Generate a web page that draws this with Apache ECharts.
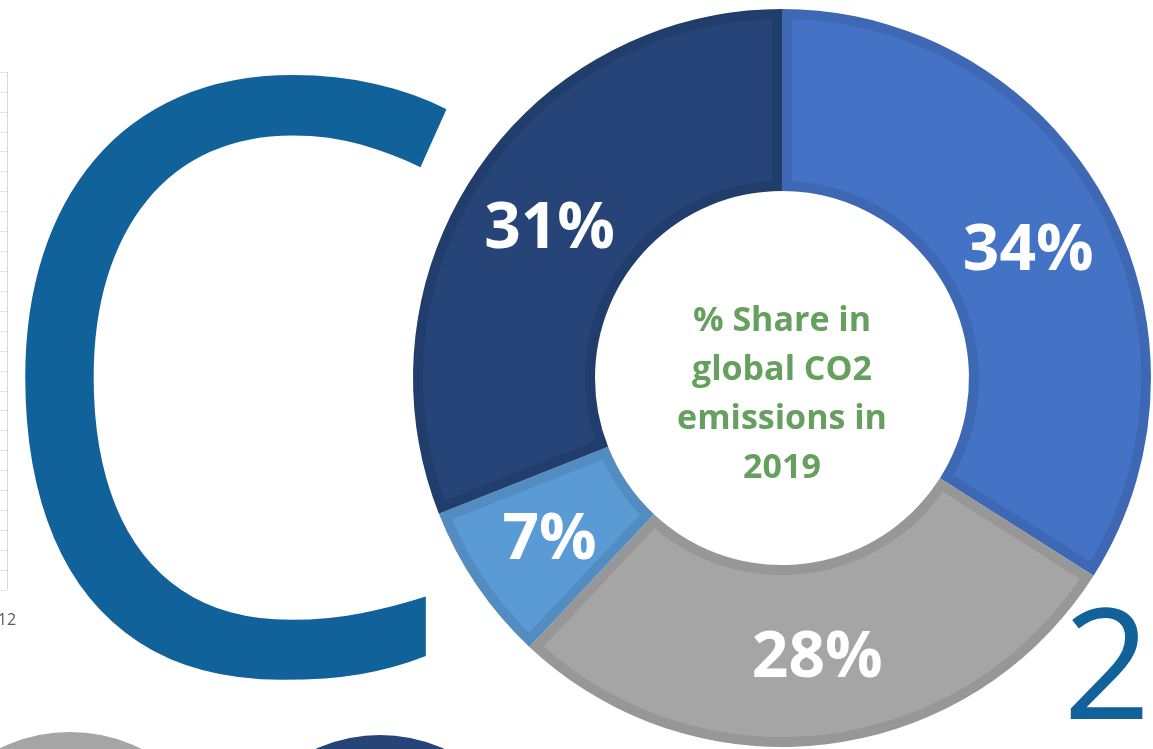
<!DOCTYPE html>
<html>
<head>
<meta charset="utf-8">
<script src="https://cdn.jsdelivr.net/npm/echarts@6/dist/echarts.min.js"></script>
<style>
html,body{margin:0;padding:0;background:#ffffff;}
#chart{width:1153px;height:749px;}
</style>
</head>
<body>
<div id="chart"></div>
<script>
// ---- data ----
const sliceNames = ['Segment A', 'Segment B', 'Segment C', 'Segment D'];
const sliceValues = [34, 28, 7, 31];
const centerLines = ['% Share in', 'global CO2', 'emissions in', '2019'];
const sideCategories = ['1', '2', '3', '4', '5', '6', '7', '8', '9', '10', '11', '12'];
const sideAxisMax = 26;
const bottomDiscLeft = [100];
const bottomDiscRight = [100];

// ---- styles ----
const sliceFill = ['#4472C4', '#A5A5A5', '#5B9BD5', '#264478'];
const sliceEdge = ['#3E68B4', '#979797', '#528CC1', '#213D6C'];
const labelShift = [[0, 9], [0, 2], [0, 5], [0, 10]];
const BRAND = '#11619B';
const GREEN = '#66A05E';
const CX = 782, CY = 378, OUTER = 369, INNER = 187, EDGE = 10;

let acc = 0;
const spans = sliceValues.map((v, i) => { const s = acc; acc += v; return [s, acc, i]; });
const TOTAL = acc;

const chart = echarts.init(document.getElementById('chart'), null, { renderer: 'canvas' });

const option = {
  backgroundColor: '#ffffff',
  animation: false,
  grid: { left: -213, right: 1146, top: 72, bottom: 159, containLabel: false, outerBoundsMode: 'none' },
  xAxis: {
    type: 'category', data: sideCategories, boundaryGap: false,
    axisLine: { show: false }, axisTick: { show: false },
    axisLabel: { interval: 0, color: '#595959', fontSize: 16, fontFamily: 'Open Sans', margin: 22, hideOverlap: false },
    splitLine: { show: true, lineStyle: { color: '#D9D9D9', width: 1 } }
  },
  yAxis: {
    type: 'value', min: 0, max: sideAxisMax, interval: 1,
    axisLine: { show: false }, axisTick: { show: false }, axisLabel: { show: false },
    splitLine: { show: true, lineStyle: { color: '#E3E3E3', width: 1 } }
  },
  polar: { center: [CX, CY], radius: OUTER },
  angleAxis: { type: 'value', min: 0, max: TOTAL, startAngle: 90, clockwise: true, show: false },
  radiusAxis: { type: 'value', min: 0, max: OUTER, show: false },
  graphic: [
    {
      type: 'text', z: 0, x: 224, y: 437, scaleX: 0.95,
      style: { text: 'C', fontSize: 824, fontFamily: 'Open Sans', fill: BRAND, align: 'center', verticalAlign: 'middle' }
    },
    {
      type: 'text', z: 0, x: 1107, y: 675,
      style: { text: '2', fontSize: 153, fontFamily: 'Open Sans', fill: BRAND, align: 'center', verticalAlign: 'middle' }
    },
    {
      type: 'text', z: 10, x: CX, y: 395,
      style: { text: centerLines.join('\n'), fontSize: 34, fontWeight: 'bold', fontFamily: 'Open Sans', lineHeight: 49, fill: GREEN, align: 'center', verticalAlign: 'middle' }
    }
  ],
  series: [
    {
      type: 'pie', silent: true, z: 1, center: [70, 892], radius: [0, 160],
      label: { show: false }, labelLine: { show: false },
      itemStyle: { color: '#A5A5A5', borderWidth: 0 },
      data: bottomDiscLeft.map(v => ({ value: v, name: 'left' }))
    },
    {
      type: 'pie', silent: true, z: 1, center: [380, 890], radius: [0, 155],
      label: { show: false }, labelLine: { show: false },
      itemStyle: { color: '#264478', borderWidth: 0 },
      data: bottomDiscRight.map(v => ({ value: v, name: 'right' }))
    },
    {
      type: 'pie', silent: true, z: 2, center: [CX, CY], radius: [INNER, OUTER],
      startAngle: 90, clockwise: true, label: { show: false }, labelLine: { show: false },
      emphasis: { scale: false },
      data: sliceNames.map((n, i) => ({ name: n, value: sliceValues[i], itemStyle: { color: sliceEdge[i], borderWidth: 0 } }))
    },
    {
      type: 'custom', coordinateSystem: 'polar', silent: true, z: 3,
      data: spans,
      renderItem: function (params, api) {
        const s = api.value(0), e = api.value(1), i = api.value(2);
        const R1 = OUTER - EDGE, R0 = INNER + EDGE;
        const off = r => Math.asin(EDGE / r) / (2 * Math.PI) * TOTAL;
        const pts = [];
        const N = 80;
        const a1s = s + off(R1), a1e = e - off(R1);
        for (let k = 0; k <= N; k++) pts.push(api.coord([R1, a1s + (a1e - a1s) * k / N]));
        const a0s = s + off(R0), a0e = e - off(R0);
        for (let k = 0; k <= N; k++) pts.push(api.coord([R0, a0e + (a0s - a0e) * k / N]));
        return { type: 'polygon', shape: { points: pts }, style: { fill: sliceFill[i] } };
      }
    },
    {
      type: 'pie', silent: true, z: 4, center: [CX, CY], radius: [INNER, OUTER],
      startAngle: 90, clockwise: true, labelLine: { show: false },
      emphasis: { scale: false },
      itemStyle: { color: 'rgba(0,0,0,0)', borderWidth: 0 },
      label: {
        show: true, position: 'inside', color: '#ffffff', fontSize: 64, fontWeight: 'bold',
        fontFamily: 'Open Sans', formatter: p => p.value + '%'
      },
      data: sliceNames.map((n, i) => ({ name: n, value: sliceValues[i], label: { offset: labelShift[i] } }))
    }
  ]
};
chart.setOption(option);
</script>
</body>
</html>
